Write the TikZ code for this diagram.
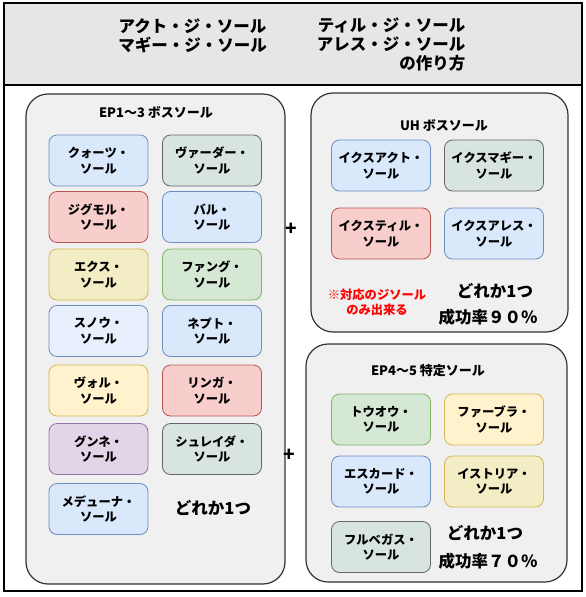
\documentclass[tikz,border=0pt]{standalone}
\usepackage{fontspec}
\setmainfont{Noto Sans CJK JP}
\usetikzlibrary{positioning}
\definecolor{bluefill}{HTML}{DAE8FC}
\definecolor{blueline}{HTML}{6C8EBF}
\definecolor{skyfill}{HTML}{E9F0FD}
\definecolor{skyline}{HTML}{6C8EBF}
\definecolor{redfill}{HTML}{F8CECC}
\definecolor{redline}{HTML}{B85450}
\definecolor{yellowfill}{HTML}{FFF2CC}
\definecolor{yellowline}{HTML}{D6B656}
\definecolor{olivefill}{HTML}{F2EDC4}
\definecolor{oliveline}{HTML}{D6B656}
\definecolor{greenfill}{HTML}{D5E8D4}
\definecolor{greenline}{HTML}{82B366}
\definecolor{grayfill}{HTML}{D8E5DE}
\definecolor{grayline}{HTML}{666666}
\definecolor{purplefill}{HTML}{E1D5E7}
\definecolor{purpleline}{HTML}{9673A6}
\definecolor{panelfill}{HTML}{F0F0F0}
\definecolor{headfill}{HTML}{E6E6E6}

\begin{document}
\begin{tikzpicture}[x=1pt, y=-1pt, line width=0.8pt,
	soul/.style={rounded corners=8pt, minimum width=99pt, minimum height=51pt,
		inner sep=0pt, align=center, font=\bfseries\fontsize{12.3}{15.5}\selectfont},
	panel/.style={draw=black!80, fill=panelfill, rounded corners=22pt, line width=1.2pt},
	title/.style={font=\bfseries\fontsize{13}{15}\selectfont},
	big/.style={font=\bfseries\fontsize{16.5}{19}\selectfont, align=center},
	plus/.style={font=\bfseries\fontsize{19}{20}\selectfont}]

	\useasboundingbox (0,0) rectangle (586,597);
	\draw[line width=1.4pt] (4,3) rectangle (582,591);
	\draw[fill=headfill, line width=1.4pt] (4,3) rectangle (582,85);

	\node[big] (headL) at (192.5,35.5) {アクト・ジ・ソール\\マギー・ジ・ソール};
	\node[big, align=right, anchor=east] (headR) at (469,45) {ティル・ジ・ソール\\アレス・ジ・ソール\\の作り方};

	% EP1~3
	\draw[panel] (26,94) rectangle (285,584);
	\node[title] (bossL) at (156,112) {EP1～3 ボスソール};
	\foreach \n/\x/\y/\clr/\t in {
		quartz/98.5/160.5/blue/クォーツ・, vader/212/160.5/gray/ヴァーダー・,
		zigmol/98.5/217/red/ジグモル・, bal/212/217/blue/バル・,
		ex/98.5/274.5/olive/エクス・, fang/212/274.5/green/ファング・,
		snow/98.5/331/sky/スノウ・, nept/212/331/blue/ネプト・,
		vol/98.5/390.5/yellow/ヴォル・, ringa/212/390.5/red/リンガ・,
		gunne/98.5/449/purple/グンネ・, shrayda/212/449/gray/シュレイダ・,
		meduna/98.5/509/blue/メデューナ・}
		\node[soul, fill=\clr fill, draw=\clr line] (\n) at (\x,\y) {\t\\ソール};
	\node[big] (anyL) at (213,508) {どれか1つ};

	\node[plus] (plusA) at (291,229) {+};
	\node[plus] (plusB) at (289,455) {+};

	% UH
	\draw[panel] (311,93) rectangle (568,332);
	\node[title] (bossUH) at (444,125) {UH ボスソール};
	\foreach \n/\x/\y/\clr/\t in {
		ixact/381/165.5/blue/イクスアクト・, ixmagi/494/165.5/gray/イクスマギー・,
		ixtil/381/233.5/red/イクスティル・, ixares/494/233.5/blue/イクスアレス・}
		\node[soul, fill=\clr fill, draw=\clr line] (\n) at (\x,\y) {\t\\ソール};
	\node[font=\bfseries\fontsize{12.3}{15}\selectfont, text=red, align=center] (note) at (377,302.5) {※対応のジソール\\のみ出来る};
	\node[big] (anyUH) at (495,291) {どれか1つ};
	\node[big] (rateUH) at (488,317) {成功率９０％};

	% EP4~5
	\draw[panel] (306,344) rectangle (567,582);
	\node[title] (spec) at (428,371) {EP4～5 特定ソール};
	\foreach \n/\x/\y/\clr/\t in {
		touou/381/419.5/green/トウオウ・, fabra/494/419.5/yellow/ファーブラ・,
		escard/381/481.5/blue/エスカード・, istria/494/481.5/olive/イストリア・,
		fulbegas/381/547/gray/フルベガス・}
		\node[soul, fill=\clr fill, draw=\clr line] (\n) at (\x,\y) {\t\\ソール};
	\node[big] (anyEP) at (485,533) {どれか1つ};
	\node[big] (rateEP) at (488,561) {成功率７０％};
\end{tikzpicture}
\end{document}
